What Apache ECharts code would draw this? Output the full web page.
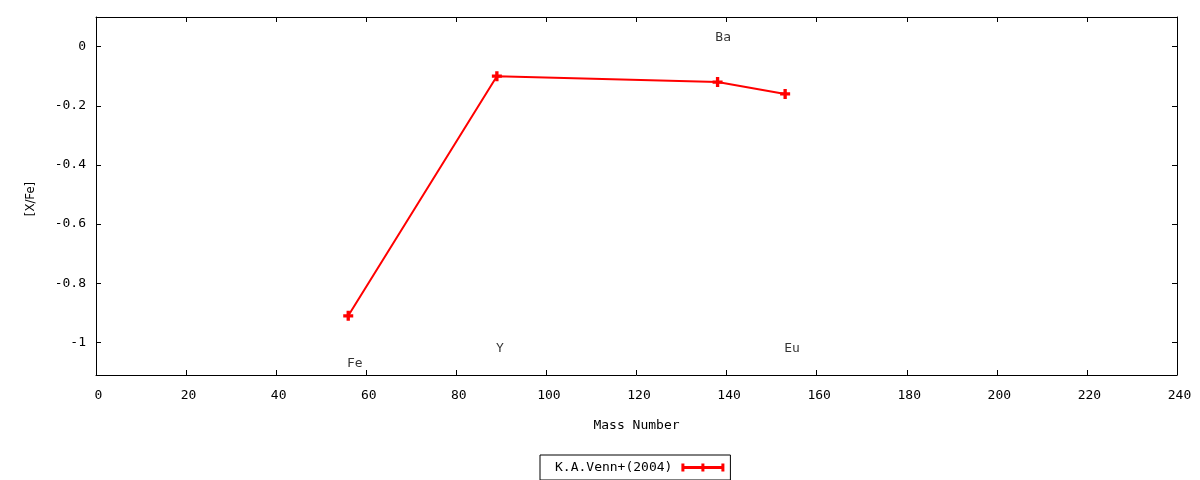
<!DOCTYPE html>
<html>
<head>
<meta charset="utf-8">
<script src="https://cdn.jsdelivr.net/npm/echarts@6/dist/echarts.min.js"></script>
<style>
html,body{margin:0;padding:0;background:#fff;}
#chart{width:1200px;height:480px;}
</style>
</head>
<body>
<div id="chart"></div>
<script>
// Data
const seriesName = 'K.A.Venn+(2004)';
const massNumbers = [56, 89, 138, 153];
const xFeValues = [-0.91, -0.10, -0.12, -0.16];
const elementNames = ['Fe', 'Y', 'Ba', 'Eu'];
const labelX = [55.7, 88.8, 137.5, 152.8];
const labelY = [-1.07, -1.02, 0.03, -1.02];
const yTickValues = [-1, -0.8, -0.6, -0.4, -0.2, 0];
const xTickMin = 0, xTickMax = 240, xTickStep = 20;
const yMin = -1.11, yMax = 0.1;

const FONT = 'DejaVu Sans Mono';
const TXT = { fontFamily: FONT, fontSize: 13, color: '#000' };
const plus = 'path://M3,0 H6 V3 H9 V6 H6 V9 H3 V6 H0 V3 H3 Z';
const legendIcon = 'path://M0,0 H3 V2.5 H20 V0 H23 V2.5 H40 V0 H43 V8 H40 V5.5 H23 V8 H20 V5.5 H3 V8 H0 Z';

const chart = echarts.init(document.getElementById('chart'), null, { renderer: 'canvas' });

const axisLine = { show: true, onZero: false, lineStyle: { color: '#000', width: 1 } };
const tick = { show: true, inside: true, length: 5, lineStyle: { color: '#000', width: 1 } };

chart.setOption({
  animation: false,
  backgroundColor: '#fff',
  grid: { left: 96, right: 23, top: 17, bottom: 105, containLabel: false },
  legend: {
    data: [{ name: seriesName, icon: legendIcon }],
    left: 540, top: 455,
    align: 'right',
    itemWidth: 43, itemHeight: 8,
    padding: [6, 6, 6, 15],
    borderColor: '#000', borderWidth: 1, borderRadius: 0,
    textStyle: Object.assign({}, TXT, { padding: [0, 4, 0, 0] }),
    itemStyle: { color: '#ff0000', borderWidth: 0 },
    lineStyle: { width: 0 }
  },
  xAxis: [
    {
      type: 'value', min: xTickMin, max: xTickMax, interval: xTickStep,
      position: 'bottom',
      name: 'Mass Number', nameLocation: 'middle', nameGap: 44,
      nameTextStyle: TXT,
      axisLine: axisLine, axisTick: tick,
      axisLabel: Object.assign({}, TXT, { margin: 14, padding: [0, 0, 0, 5] }),
      splitLine: { show: false }
    },
    {
      type: 'value', min: xTickMin, max: xTickMax, interval: xTickStep,
      position: 'top',
      axisLine: axisLine, axisTick: tick,
      axisLabel: { show: false },
      splitLine: { show: false }
    }
  ],
  yAxis: [
    {
      type: 'value', min: yMin, max: yMax,
      position: 'left',
      name: '[X/Fe]', nameLocation: 'middle', nameGap: 59, nameRotate: 90,
      nameTextStyle: { fontFamily: 'DejaVu Sans Condensed', fontSize: 13, color: '#000', padding: [0, 6, 0, 0] },
      axisLine: axisLine,
      axisTick: Object.assign({}, tick, { customValues: yTickValues }),
      axisLabel: Object.assign({}, TXT, { margin: 10, customValues: yTickValues }),
      splitLine: { show: false }
    },
    {
      type: 'value', min: yMin, max: yMax,
      position: 'right',
      axisLine: axisLine,
      axisTick: Object.assign({}, tick, { customValues: yTickValues }),
      axisLabel: { show: false, customValues: yTickValues },
      splitLine: { show: false }
    }
  ],
  series: [
    {
      name: seriesName,
      type: 'line',
      xAxisIndex: 0, yAxisIndex: 0,
      data: massNumbers.map((m, i) => [m, xFeValues[i]]),
      symbol: plus,
      symbolSize: 10,
      showAllSymbol: true,
      lineStyle: { color: '#ff0000', width: 2 },
      itemStyle: { color: '#ff0000' },
      z: 3
    },
    {
      name: 'labels',
      type: 'scatter',
      xAxisIndex: 0, yAxisIndex: 0,
      silent: true,
      symbolSize: 0,
      data: labelX.map((x, i) => ({ value: [x, labelY[i]], name: elementNames[i] })),
      label: Object.assign({}, TXT, {
        show: true,
        position: [0, 0],
        align: 'left',
        verticalAlign: 'middle',
        formatter: p => p.name
      }),
      z: 4
    }
  ]
});
</script>
</body>
</html>
